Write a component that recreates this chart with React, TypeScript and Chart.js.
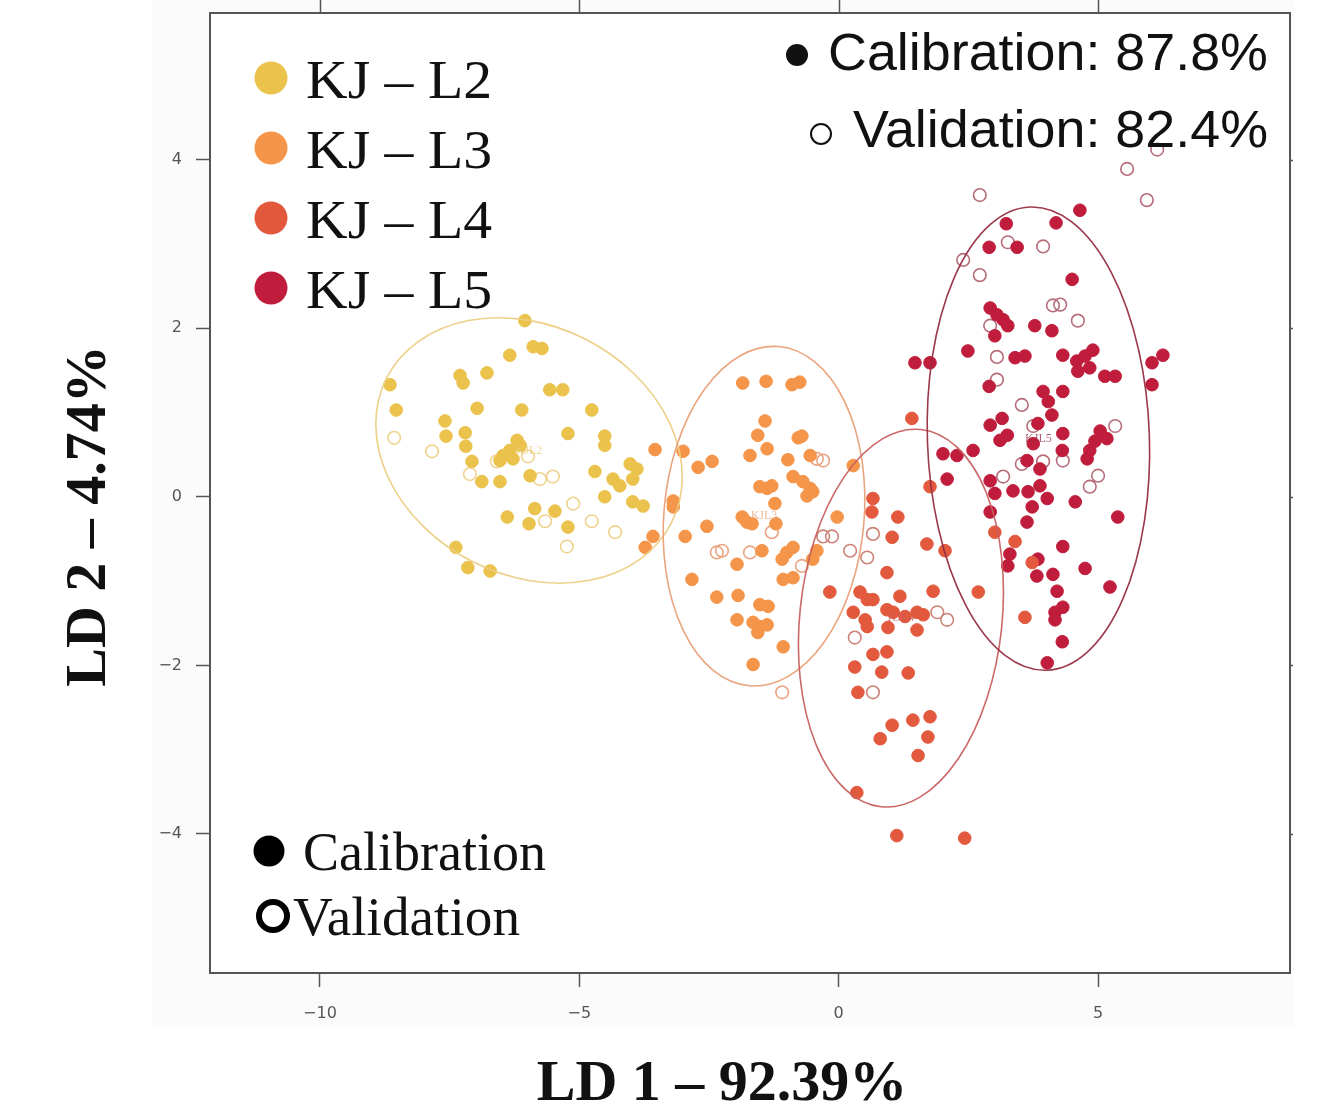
import { useEffect, useRef } from 'react';
import { Chart, registerables } from 'chart.js';

Chart.register(...registerables);

// ---------- data ----------
const GROUP_NAMES = ['KJ – L2', 'KJ – L3', 'KJ – L4', 'KJ – L5'];
const CENTROID_LABELS = ['KJL2', 'KJL3', 'KJL4', 'KJL5'];
const GROUP_COLORS = ['#EAC24C', '#F4954A', '#E2593E', '#C01C3C'];
const OPEN_COLORS = ['#EFD28E', '#E9A482', '#CC8276', '#B66C7A'];
const ELLIPSE_COLORS = ['rgba(236,204,130,0.95)', 'rgba(233,160,120,0.95)', 'rgba(200,95,95,0.95)', 'rgba(150,45,65,0.95)'];

const X_TICKS = [-10, -5, 0, 5];
const Y_TICKS = [-4, -2, 0, 2, 4];
const X_MIN = -12.12;
const X_MAX = 8.7;
const Y_MIN = -5.65;
const Y_MAX = 5.74;

const X_TITLE = 'LD 1 – 92.39%';
const Y_TITLE = 'LD 2 – 4.74%';
const ACC_CAL = 'Calibration: 87.8%';
const ACC_VAL = 'Validation: 82.4%';

// confidence ellipses (centre, semi-axes in data units, tilt in degrees)
const ELLIPSE_CX = [-5.97, -1.44, 1.2, 3.85];
const ELLIPSE_CY = [0.55, -0.23, -1.44, 0.69];
const ELLIPSE_RX = [3.08, 1.93, 1.95, 2.14];
const ELLIPSE_RY = [1.48, 2.02, 2.25, 2.75];
const ELLIPSE_ANGLE = [27, 5, 6, -2];

const L2_CAL: number[][] = [
  [-6.05, 2.09], [-5.89, 1.78], [-5.72, 1.76], [-6.34, 1.68], [-7.3, 1.44], [-7.24, 1.35], [-6.78, 1.47],
  [-5.57, 1.27], [-5.32, 1.27], [-8.65, 1.33], [-8.53, 1.03], [-6.97, 1.05], [-6.11, 1.03], [-4.76, 1.03],
  [-7.59, 0.9], [-7.57, 0.72], [-7.2, 0.76], [-7.19, 0.6], [-5.22, 0.75], [-4.51, 0.72], [-4.51, 0.61],
  [-6.2, 0.67], [-6.14, 0.61], [-6.34, 0.55], [-6.47, 0.49], [-6.53, 0.43], [-6.28, 0.45], [-7.07, 0.42],
  [-4.02, 0.39], [-3.89, 0.33], [-3.97, 0.21], [-4.7, 0.3], [-5.95, 0.25], [-4.35, 0.21], [-4.22, 0.13],
  [-6.88, 0.18], [-6.53, 0.18], [-4.51, 0.0], [-3.97, -0.06], [-3.77, -0.11], [-5.86, -0.14], [-5.47, -0.17],
  [-6.39, -0.24], [-5.97, -0.32], [-5.22, -0.36], [-7.38, -0.6], [-7.15, -0.84], [-6.72, -0.88],
];
const L2_VAL: number[][] = [
  [-8.57, 0.7], [-7.84, 0.54], [-7.11, 0.27], [-6.59, 0.42], [-5.76, 0.21], [-5.51, 0.24], [-5.99, 0.48],
  [-5.12, -0.08], [-5.66, -0.29], [-4.76, -0.29], [-4.31, -0.42], [-5.24, -0.59],
];
const L3_CAL: number[][] = [
  [-1.85, 1.35], [-1.4, 1.37], [-0.9, 1.33], [-0.75, 1.36], [-1.42, 0.9], [-1.56, 0.73], [-0.78, 0.7],
  [-0.71, 0.72], [-1.38, 0.57], [-1.71, 0.49], [-0.98, 0.44], [-0.55, 0.49], [-3.54, 0.56], [-3.0, 0.54],
  [-2.44, 0.42], [-2.71, 0.35], [-0.88, 0.24], [-0.69, 0.18], [-0.55, 0.1], [-0.61, 0.01], [-0.5, 0.06],
  [-1.52, 0.12], [-1.38, 0.1], [-1.29, 0.13], [-1.23, -0.08], [-1.86, -0.24], [-1.77, -0.3], [-1.67, -0.32],
  [-1.21, -0.32], [-3.19, -0.05], [-3.19, -0.12], [-3.58, -0.47], [-3.73, -0.6], [-2.54, -0.35], [-2.96, -0.47],
  [-0.03, -0.24], [0.28, 0.37], [-1.48, -0.64], [-1.96, -0.8], [-1.09, -0.74], [-1.0, -0.66], [-0.88, -0.6],
  [-0.42, -0.64], [-0.5, -0.74], [-2.83, -0.98], [-1.07, -0.98], [-0.88, -0.96], [-2.35, -1.19], [-1.94, -1.17],
  [-1.52, -1.28], [-1.36, -1.3], [-1.96, -1.46], [-1.65, -1.49], [-1.52, -1.54], [-1.56, -1.61], [-1.38, -1.52],
  [-1.07, -1.78], [-1.65, -1.99],
];
const L3_VAL: number[][] = [
  [-0.3, 0.43], [-0.42, 0.45], [-1.29, -0.42], [-2.35, -0.66], [-2.25, -0.64], [-1.71, -0.66], [-0.71, -0.82],
  [-1.09, -2.32],
];
const L4_CAL: number[][] = [
  [1.41, 0.93], [1.76, 0.12], [0.66, -0.02], [0.64, -0.18], [1.14, -0.24], [1.03, -0.48], [1.7, -0.56],
  [2.05, -0.64], [0.93, -0.9], [-0.17, -1.13], [0.41, -1.13], [0.55, -1.22], [0.66, -1.22], [1.18, -1.18],
  [1.82, -1.12], [2.69, -1.13], [0.28, -1.37], [0.51, -1.46], [0.55, -1.54], [0.93, -1.34], [1.05, -1.37],
  [1.28, -1.42], [1.51, -1.37], [1.63, -1.4], [1.51, -1.58], [0.95, -1.55], [0.66, -1.87], [0.93, -1.84],
  [0.31, -2.02], [0.83, -2.08], [1.34, -2.09], [0.37, -2.32], [1.03, -2.71], [1.43, -2.65], [1.76, -2.61],
  [0.8, -2.87], [1.72, -2.85], [1.53, -3.07], [0.35, -3.51], [1.12, -4.02], [2.43, -4.05], [3.01, -0.42],
  [3.4, -0.53], [3.73, -0.78], [3.59, -1.43],
];
const L4_VAL: number[][] = [
  [0.66, -0.44], [0.22, -0.64], [0.55, -0.72], [-0.3, -0.47], [-0.13, -0.47], [0.31, -1.67], [0.66, -2.32],
  [1.9, -1.37], [2.09, -1.46],
];
const L5_CAL: number[][] = [
  [4.65, 3.4], [3.23, 3.24], [4.19, 3.25], [2.9, 2.96], [3.44, 2.96], [4.5, 2.58], [2.92, 2.24], [3.05, 2.16],
  [3.17, 2.1], [3.26, 2.03], [3.01, 1.91], [3.78, 2.03], [4.11, 1.97], [2.49, 1.73], [3.4, 1.65], [3.59, 1.67],
  [4.32, 1.68], [4.59, 1.61], [4.75, 1.67], [4.9, 1.74], [4.61, 1.49], [4.84, 1.53], [5.13, 1.43], [5.33, 1.43],
  [1.47, 1.59], [1.76, 1.59], [6.25, 1.68], [6.04, 1.59], [6.04, 1.33], [2.9, 1.31], [3.94, 1.25], [4.04, 1.13],
  [4.32, 1.25], [4.11, 0.97], [2.92, 0.85], [3.15, 0.93], [3.11, 0.67], [3.25, 0.73], [3.84, 0.87], [4.32, 0.75],
  [4.31, 0.55], [3.75, 0.63], [5.04, 0.78], [5.17, 0.69], [4.94, 0.66], [4.84, 0.55], [4.79, 0.45], [2.01, 0.51],
  [2.28, 0.49], [2.59, 0.55], [2.09, 0.21], [3.63, 0.43], [3.88, 0.33], [2.92, 0.19], [3.01, 0.04], [3.36, 0.07],
  [3.65, 0.06], [3.88, 0.13], [4.02, -0.02], [4.56, -0.06], [3.73, -0.12], [2.92, -0.18], [3.63, -0.3],
  [5.38, -0.24], [4.32, -0.59], [3.3, -0.68], [3.26, -0.82], [3.84, -0.74], [3.82, -0.94], [4.13, -0.92],
  [4.75, -0.85], [4.21, -1.12], [5.23, -1.07], [4.32, -1.31], [4.17, -1.37], [4.17, -1.46], [4.31, -1.72],
  [4.02, -1.97],
];
const L5_VAL: number[][] = [
  [2.72, 3.58], [5.56, 3.89], [5.94, 3.52], [6.14, 4.12], [3.26, 3.02], [2.4, 2.81], [2.72, 2.63], [3.94, 2.97],
  [4.13, 2.27], [4.27, 2.28], [4.61, 2.09], [2.92, 2.03], [3.05, 1.66], [3.05, 1.39], [3.53, 1.09], [3.75, 0.84],
  [5.33, 0.84], [3.53, 0.39], [3.94, 0.42], [4.32, 0.43], [3.17, 0.24], [5.0, 0.25], [4.84, 0.12],
];

const CAL_SETS = [L2_CAL, L3_CAL, L4_CAL, L5_CAL];
const VAL_SETS = [L2_VAL, L3_VAL, L4_VAL, L5_VAL];

const SERIF = '"Liberation Serif", "DejaVu Serif", serif';
const SANS = '"Liberation Sans", Arial, sans-serif';

// draw text horizontally stretched to a target width (keeps glyph height)
function fitText(ctx: any, text: string, x: number, y: number, width: number, align: 'left' | 'right') {
  const w = ctx.measureText(text).width;
  const sx = width / w;
  ctx.save();
  ctx.textAlign = 'left';
  const startX = align === 'left' ? x : x - width;
  ctx.translate(startX, y);
  ctx.scale(sx, 1);
  ctx.fillText(text, 0, 0);
  ctx.restore();
}

const overlayPlugin = {
  id: 'overlay',
  beforeDraw(chart: any) {
    const ctx = chart.ctx;
    const { left, top, right, bottom } = chart.chartArea;
    ctx.save();
    ctx.fillStyle = '#ffffff';
    ctx.fillRect(0, 0, chart.width, chart.height);
    ctx.fillStyle = '#fbfbfb';
    ctx.fillRect(152, 0, 1142, 1027);
    ctx.fillStyle = '#ffffff';
    ctx.fillRect(left, top, right - left, bottom - top);
    ctx.restore();
  },
  afterDatasetsDraw(chart: any) {
    const ctx = chart.ctx;
    const xs = chart.scales.x;
    const ys = chart.scales.y;
    ctx.save();
    for (let i = 0; i < ELLIPSE_CX.length; i++) {
      const cx = xs.getPixelForValue(ELLIPSE_CX[i]);
      const cy = ys.getPixelForValue(ELLIPSE_CY[i]);
      const rx = Math.abs(xs.getPixelForValue(ELLIPSE_CX[i] + ELLIPSE_RX[i]) - cx);
      const ry = Math.abs(ys.getPixelForValue(ELLIPSE_CY[i] + ELLIPSE_RY[i]) - cy);
      ctx.beginPath();
      ctx.ellipse(cx, cy, rx, ry, (ELLIPSE_ANGLE[i] * Math.PI) / 180, 0, Math.PI * 2);
      ctx.strokeStyle = ELLIPSE_COLORS[i];
      ctx.lineWidth = 1.6;
      ctx.stroke();
      ctx.font = `12px ${SERIF}`;
      ctx.fillStyle = ELLIPSE_COLORS[i];
      ctx.globalAlpha = 0.8;
      ctx.textAlign = 'center';
      ctx.textBaseline = 'middle';
      ctx.fillText(CENTROID_LABELS[i], cx, cy);
      ctx.globalAlpha = 1;
    }
    ctx.restore();
  },
  afterDraw(chart: any) {
    const ctx = chart.ctx;
    const xs = chart.scales.x;
    const ys = chart.scales.y;
    const { left, top, right, bottom } = chart.chartArea;
    ctx.save();
    // frame
    ctx.strokeStyle = '#555';
    ctx.lineWidth = 2;
    ctx.strokeRect(left, top, right - left, bottom - top);
    ctx.lineWidth = 1.5;
    ctx.beginPath();
    for (const v of X_TICKS) {
      const px = Math.round(xs.getPixelForValue(v)) + 0.5;
      ctx.moveTo(px, top);
      ctx.lineTo(px, Math.max(0, top - 13));
    }
    for (const v of Y_TICKS) {
      const py = Math.round(ys.getPixelForValue(v)) + 0.5;
      ctx.moveTo(right, py);
      ctx.lineTo(right + 3, py);
    }
    ctx.stroke();

    // group legend (top-left)
    ctx.textBaseline = 'alphabetic';
    ctx.font = `54px ${SERIF}`;
    for (let i = 0; i < GROUP_NAMES.length; i++) {
      const cy = 78 + i * 70;
      ctx.beginPath();
      ctx.arc(271, cy, 16.5, 0, Math.PI * 2);
      ctx.fillStyle = GROUP_COLORS[i];
      ctx.fill();
      ctx.fillStyle = '#111';
      fitText(ctx, GROUP_NAMES[i], 306, cy + 20, 186, 'left');
    }

    // calibration / validation legend (bottom-left)
    ctx.fillStyle = '#000';
    ctx.beginPath();
    ctx.arc(269, 851, 15.5, 0, Math.PI * 2);
    ctx.fill();
    ctx.beginPath();
    ctx.arc(273, 916, 14, 0, Math.PI * 2);
    ctx.lineWidth = 6;
    ctx.strokeStyle = '#000';
    ctx.stroke();
    ctx.fillStyle = '#111';
    ctx.font = `54px ${SERIF}`;
    ctx.textAlign = 'left';
    ctx.fillText('Calibration', 303, 870);
    fitText(ctx, 'Validation', 293, 935, 227, 'left');

    // accuracy text (top-right)
    ctx.font = `51px ${SANS}`;
    ctx.fillStyle = '#111';
    fitText(ctx, ACC_CAL, 1268, 70, 440, 'right');
    fitText(ctx, ACC_VAL, 1268, 147, 415, 'right');
    ctx.beginPath();
    ctx.arc(797, 55, 11, 0, Math.PI * 2);
    ctx.fill();
    ctx.beginPath();
    ctx.arc(821, 134, 10, 0, Math.PI * 2);
    ctx.lineWidth = 2;
    ctx.strokeStyle = '#111';
    ctx.stroke();

    // axis titles
    ctx.fillStyle = '#111';
    ctx.font = `bold 58px ${SERIF}`;
    ctx.textAlign = 'center';
    ctx.fillText(X_TITLE, 722, 1100);
    ctx.save();
    ctx.translate(105, 516);
    ctx.rotate(-Math.PI / 2);
    ctx.fillText(Y_TITLE, 0, 0);
    ctx.restore();
    ctx.restore();
  },
};

const minusLabel = (v: any) => (Number(v) < 0 ? '\u2212' + Math.abs(Number(v)) : String(v));

export default function App() {
  const ref = useRef<HTMLCanvasElement | null>(null);
  useEffect(() => {
    if (!ref.current) return;
    const datasets: any[] = [];
    for (let i = 0; i < 4; i++) {
      datasets.push({
        label: GROUP_NAMES[i] + ' calibration',
        data: CAL_SETS[i].map(([x, y]) => ({ x, y })),
        backgroundColor: GROUP_COLORS[i],
        borderColor: GROUP_COLORS[i],
        borderWidth: 1,
        pointRadius: 6.3,
        pointHoverRadius: 6.3,
      });
      datasets.push({
        label: GROUP_NAMES[i] + ' validation',
        data: VAL_SETS[i].map(([x, y]) => ({ x, y })),
        backgroundColor: 'rgba(255,255,255,0)',
        borderColor: OPEN_COLORS[i],
        borderWidth: 1.6,
        pointRadius: 6.3,
        pointHoverRadius: 6.3,
      });
    }
    const chart = new Chart(ref.current, {
      type: 'scatter',
      data: { datasets },
      options: {
        animation: false,
        responsive: false,
        devicePixelRatio: 1,
        layout: { padding: { left: 0, right: 43, top: 13, bottom: 0 } },
        plugins: { legend: { display: false }, tooltip: { enabled: false }, title: { display: false } },
        scales: {
          x: {
            type: 'linear',
            min: X_MIN,
            max: X_MAX,
            afterBuildTicks: (s: any) => {
              s.ticks = X_TICKS.map((v) => ({ value: v }));
            },
            afterFit: (s: any) => {
              s.height = 137;
              s.paddingLeft = 0;
              s.paddingRight = 0;
            },
            ticks: {
              font: { family: 'DejaVu Sans', size: 16 },
              color: '#555',
              padding: 17,
              maxRotation: 0,
              callback: minusLabel,
            },
            grid: { display: true, drawOnChartArea: false, drawTicks: true, tickLength: 14, tickColor: '#555', tickWidth: 1.5 },
            border: { display: true, color: '#555', width: 2 },
          },
          y: {
            type: 'linear',
            min: Y_MIN,
            max: Y_MAX,
            afterBuildTicks: (s: any) => {
              s.ticks = Y_TICKS.map((v) => ({ value: v }));
            },
            afterFit: (s: any) => {
              s.width = 210;
              s.paddingTop = 0;
              s.paddingBottom = 0;
            },
            ticks: {
              font: { family: 'DejaVu Sans', size: 16 },
              color: '#555',
              padding: 14,
              callback: minusLabel,
            },
            grid: { display: true, drawOnChartArea: false, drawTicks: true, tickLength: 14, tickColor: '#555', tickWidth: 1.5 },
            border: { display: true, color: '#555', width: 2 },
          },
        },
      },
      plugins: [overlayPlugin],
    });
    return () => chart.destroy();
  }, []);
  return (
    <div style={{ position: 'absolute', left: 0, top: 0, width: 1333, height: 1110, background: '#fff' }}>
      <canvas ref={ref} width={1333} height={1110} style={{ width: 1333, height: 1110, display: 'block' }} />
    </div>
  );
}
